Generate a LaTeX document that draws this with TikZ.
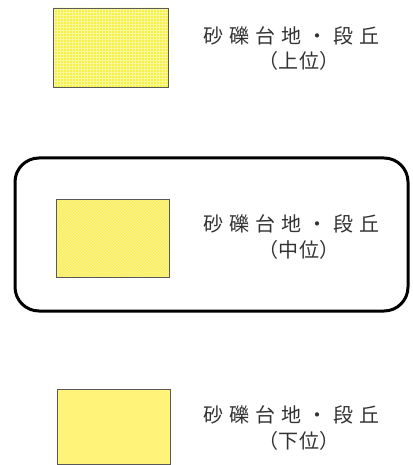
\documentclass[tikz,border=0pt]{standalone}
\usepackage{fontspec}
\newfontfamily\jpfont{Noto Sans CJK JP}
\usetikzlibrary{patterns}
\definecolor{yelA}{HTML}{F6F040}
\definecolor{yelB}{HTML}{F8EE5A}
\definecolor{yelC}{HTML}{FFF37A}
\definecolor{txtgray}{HTML}{333333}
\newcommand\cb[1]{\makebox[26pt]{#1}}
\newcommand\pb[1]{\makebox[20.5pt]{#1}}
\newcommand\maintxt{\cb{砂}\cb{礫}\cb{台}\cb{地}\cb{・}\cb{段}\cb{丘}}
\tikzset{
  swatch/.style={draw=black!65, line width=0.6pt},
  label/.style={inner sep=0pt, font=\jpfont\fontsize{20}{20}\selectfont, text=txtgray},
  frame/.style={draw=black, line width=3pt, rounded corners=24pt}
}
\begin{document}
\begin{tikzpicture}[x=1pt,y=-1pt]
\useasboundingbox (0,0) rectangle (412,465);
% row 1
\fill[yelA] (53,8) rectangle (168,87);
\fill[pattern=grid, pattern color=white!50!yelA] (53,8) rectangle (168,87);
\draw[swatch] (53,8) rectangle (168,87);
\node[label, anchor=west] (t1) at (200.5,35.5) {\maintxt};
\node[label] (s1) at (299,60.5) {\pb{（}\pb{上}\pb{位}\pb{）}};
% row 2
\draw[frame] (15,158) rectangle (408,311);
\fill[yelB] (56,199) rectangle (169,277);
\fill[pattern=north east lines, pattern color=white!50!yelB] (56,199) rectangle (169,277);
\draw[swatch] (56,199) rectangle (169,277);
\node[label, anchor=west] (t2) at (200.5,224) {\maintxt};
\node[label] (s2) at (299,250) {\pb{（}\pb{中}\pb{位}\pb{）}};
% row 3
\fill[yelC] (57,389) rectangle (170,464);
\draw[swatch] (57,389) rectangle (170,464);
\node[label, anchor=west] (t3) at (200.5,415) {\maintxt};
\node[label] (s3) at (299,441) {\pb{（}\pb{下}\pb{位}\pb{）}};
\end{tikzpicture}
\end{document}
